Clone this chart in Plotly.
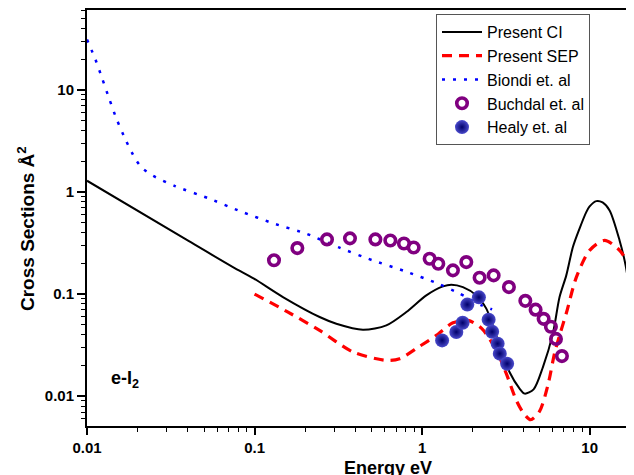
import plotly.graph_objects as go

# ---- data ----
ci_x = [0.01, 0.0392, 0.0743, 0.0992, 0.1477, 0.2445, 0.3076, 0.4433, 0.6115, 0.805,
        1.059, 1.331, 1.494, 1.752, 2.106, 2.416, 2.90, 3.328, 3.817, 4.089, 4.627,
        5.26, 6.03, 6.61, 7.25, 7.94, 8.71, 9.54, 9.99, 10.95, 11.94, 13.15, 15.08, 16.38, 18.1]
ci_y = [1.287, 0.3405, 0.1837, 0.1415, 0.0935, 0.0596, 0.0513, 0.0448, 0.0494, 0.0667,
        0.0971, 0.1189, 0.1236, 0.117, 0.0971, 0.072, 0.0315, 0.01714, 0.01187, 0.0106, 0.01168,
        0.0193, 0.041, 0.0935, 0.1524, 0.2884, 0.4395, 0.634, 0.721, 0.813, 0.789, 0.659, 0.335, 0.191, 0.0643]

sep_x = [0.1, 0.1554, 0.2445, 0.3865, 0.6115, 0.734, 0.966, 1.215, 1.527, 1.877, 2.265,
         2.772, 3.18, 3.648, 4.033, 4.44, 5.02, 5.63, 6.17, 6.61, 7.25, 8.32, 9.99,
         12.27, 15.08, 18.1]
sep_y = [0.1, 0.0677, 0.0441, 0.0271, 0.02245, 0.0233, 0.0308, 0.0394, 0.0523, 0.0553, 0.0462,
         0.0281, 0.01664, 0.00912, 0.0068, 0.00588, 0.00712, 0.0128, 0.0263, 0.0394, 0.0648, 0.1457, 0.2677,
         0.335, 0.2677, 0.164]

biondi_x = [0.01, 0.01122, 0.01236, 0.0136, 0.01497, 0.01685, 0.01934, 0.0214, 0.02476, 0.0335,
            0.0527, 0.0826, 0.1295, 0.2037, 0.319, 0.502, 0.786, 1.232, 1.667, 2.243, 2.617]
biondi_y = [31.0, 19.9, 12.7, 8.09, 5.24, 3.34, 2.13, 1.70, 1.44, 1.14,
            0.870, 0.645, 0.492, 0.390, 0.286, 0.215, 0.168, 0.1273, 0.1016, 0.078, 0.0708]

buchdal_x = [0.1306, 0.180, 0.2705, 0.371, 0.526, 0.646, 0.779, 0.890, 1.109, 1.249, 1.527,
             1.835, 2.203, 2.671, 3.296, 4.13, 4.755, 5.31, 5.87, 6.29, 6.83]
buchdal_y = [0.214, 0.282, 0.343, 0.351, 0.343, 0.335, 0.313, 0.286, 0.222, 0.198, 0.1706,
             0.2056, 0.1447, 0.1524, 0.117, 0.0858, 0.0704, 0.0572, 0.0478, 0.0364, 0.0247]

healy_x = [1.316, 1.600, 1.745, 1.861, 2.182, 2.494, 2.617, 2.822, 2.908, 3.216]
healy_y = [0.0352, 0.0425, 0.0523, 0.0789, 0.0929, 0.0562, 0.0427, 0.0327, 0.0261, 0.0208]

x_tickvals = [0.01, 0.1, 1, 10]
x_ticktext = ["0.01", "0.1", "1", "10"]
y_tickvals = [0.01, 0.1, 1, 10]
y_ticktext = ["0.01", "0.1", "1", "10"]

# ---- figure ----
# the page body adds an 8px offset; size the figure so the plot sits where the reference has it
OFF = 8
W, H = 634 - OFF, 475 - OFF
ML, MR, MT, MB = 79, 1, 2, 49

fig = go.Figure()
fig.add_trace(go.Scatter(x=ci_x, y=ci_y, mode="lines", name="Present CI",
                         line=dict(color="black", width=2, shape="spline", smoothing=0.8)))
fig.add_trace(go.Scatter(x=sep_x, y=sep_y, mode="lines", name="Present SEP",
                         line=dict(color="#ff0000", width=3.2, dash="10px,7px",
                                   shape="spline", smoothing=0.8)))
fig.add_trace(go.Scatter(x=biondi_x, y=biondi_y, mode="lines", name="Biondi et. al",
                         line=dict(color="#0000ff", width=2.5, dash="3px,8px",
                                   shape="spline", smoothing=0.6)))
fig.add_trace(go.Scatter(x=buchdal_x, y=buchdal_y, mode="markers", name="Buchdal et. al",
                         marker=dict(symbol="circle-open", size=10.5, color="#800080",
                                     line=dict(width=3.6, color="#800080"))))
fig.add_trace(go.Scatter(x=healy_x, y=healy_y, mode="markers", name="Healy et. al",
                         marker=dict(symbol="circle", size=14, color="#4a4acc",
                                     gradient=dict(type="radial", color="#00006a"),
                                     line=dict(width=0))))

tickfont = dict(family="Liberation Sans, Arial, sans-serif", size=15, color="black", weight="bold")

fig.update_xaxes(type="log", range=[-2, 1.2585], automargin=False,
                 tickmode="array", tickvals=x_tickvals, ticktext=x_ticktext,
                 ticks="outside", ticklen=7, tickwidth=1.5, tickcolor="black",
                 minor=dict(ticks="outside", ticklen=4, tickwidth=1.2, tickcolor="black",
                            tickmode="array",
                            tickvals=[m * 10 ** e for e in (-2, -1, 0, 1) for m in range(2, 10)],
                            showgrid=False),
                 showline=True, linewidth=2, linecolor="black", mirror=True,
                 showgrid=False, zeroline=False, tickfont=tickfont)
fig.update_yaxes(type="log", range=[-2.2916, 1.781], automargin=False,
                 tickmode="array", tickvals=y_tickvals, ticktext=y_ticktext,
                 ticks="outside", ticklen=8, tickwidth=1.5, tickcolor="black",
                 minor=dict(ticks="outside", ticklen=4, tickwidth=1.2, tickcolor="black",
                            tickmode="array",
                            tickvals=[m * 10 ** e for e in (-3, -2, -1, 0, 1) for m in range(2, 10)],
                            showgrid=False),
                 showline=True, linewidth=2, linecolor="black", mirror=True,
                 showgrid=False, zeroline=False, tickfont=tickfont)

ph = H - MT - MB
pw = W - ML - MR
titlefont = dict(family="Liberation Sans, Arial, sans-serif", size=18, color="black", weight="bold")


def px_x(p):  # page pixel -> paper x
    return (p - OFF - ML) / pw


def px_y(p):  # page pixel -> paper y
    return 1 - (p - OFF - MT) / ph


fig.add_annotation(text="Energy eV", xref="paper", yref="paper",
                   x=px_x(388), y=px_y(456),
                   xanchor="center", yanchor="top", showarrow=False, font=titlefont)
fig.add_annotation(text="Cross Sections Å<sup>2</sup>", xref="paper", yref="paper",
                   x=px_x(26), y=px_y(229), textangle=-90,
                   xanchor="center", yanchor="middle", showarrow=False,
                   font=dict(family="Liberation Sans, Arial, sans-serif", size=19,
                             color="black", weight="bold"))
fig.add_annotation(text="e-I<sub>2</sub>", xref="paper", yref="paper",
                   x=px_x(109), y=px_y(379),
                   xanchor="left", yanchor="middle", showarrow=False,
                   font=dict(family="Liberation Sans, Arial, sans-serif", size=18,
                             color="black", weight="bold"))

fig.update_layout(
    width=W, height=H,
    margin=dict(l=ML, r=MR, t=MT, b=MB, autoexpand=False),
    plot_bgcolor="white", paper_bgcolor="white",
    showlegend=True,
    legend=dict(x=px_x(436), y=px_y(14), xanchor="left", yanchor="top",
                bgcolor="white", bordercolor="#555555", borderwidth=1,
                font=dict(family="Liberation Sans, Arial, sans-serif", size=16, color="black"),
                itemwidth=40, tracegroupgap=0),
)

fig.write_html("out.html")
